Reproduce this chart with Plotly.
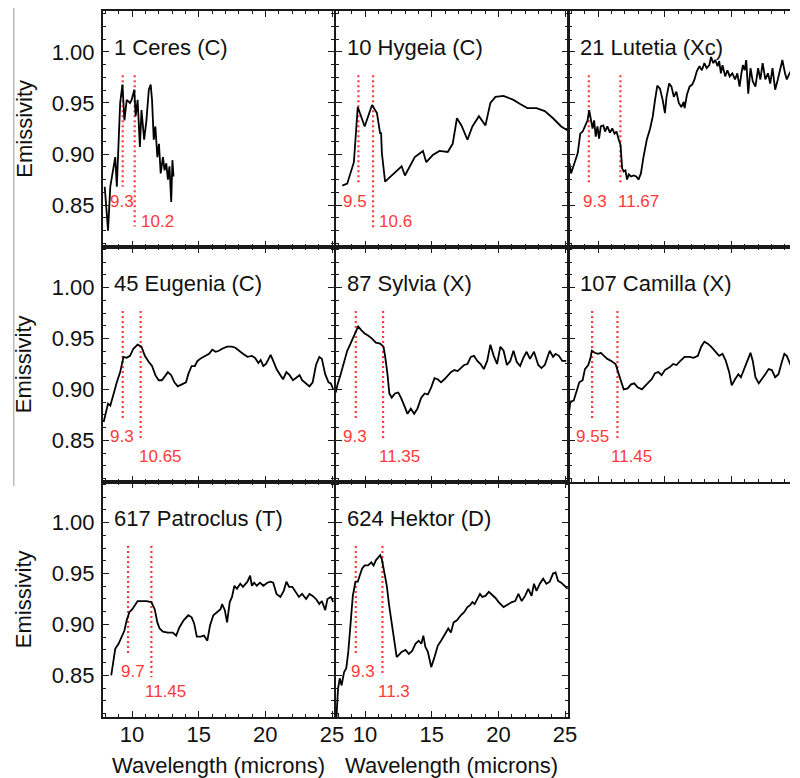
import plotly.graph_objects as go

# ---- emissivity spectra (wavelength in microns, emissivity) ----
ceres_wl = [7.95, 8.2, 8.37, 8.61, 8.74, 8.86, 8.99, 9.11, 9.28, 9.43, 9.6, 9.85, 9.97, 10.17,
            10.27, 10.42, 10.59, 10.71, 10.91, 11.08, 11.26, 11.4, 11.5, 11.63, 11.75, 11.9,
            12.02, 12.15, 12.32, 12.44, 12.57, 12.69, 12.81, 12.94, 13.03, 13.11]
ceres_em = [0.868, 0.825, 0.868, 0.888, 0.897, 0.868, 0.907, 0.950, 0.968, 0.933, 0.953, 0.950,
            0.953, 0.963, 0.937, 0.953, 0.907, 0.943, 0.914, 0.933, 0.963, 0.968, 0.953, 0.914,
            0.927, 0.897, 0.910, 0.881, 0.897, 0.884, 0.891, 0.875, 0.888, 0.853, 0.894, 0.878]

hygeia_wl = [8.29, 8.66, 9.16, 9.45, 9.97, 10.52, 10.89, 11.13, 11.2, 11.26, 11.5, 12.0, 12.74,
             12.99, 13.73, 14.34, 14.59, 15.08, 15.58, 16.2, 16.57, 16.89, 17.23, 17.68, 18.05,
             18.54, 19.03, 19.4, 19.78, 20.39, 21.13, 21.63, 22.17, 22.86, 23.48, 24.1, 24.71, 25.2]
hygeia_em = [0.869, 0.871, 0.892, 0.946, 0.927, 0.948, 0.940, 0.920, 0.921, 0.901, 0.873, 0.879,
             0.888, 0.879, 0.897, 0.903, 0.892, 0.899, 0.903, 0.902, 0.910, 0.935, 0.928, 0.914,
             0.927, 0.937, 0.928, 0.950, 0.956, 0.957, 0.953, 0.949, 0.945, 0.945, 0.942, 0.935,
             0.927, 0.923]

lutetia_wl = [7.85, 7.97, 8.22, 8.47, 8.66, 8.84, 9.01, 9.21, 9.33, 9.45, 9.58, 9.7, 9.82, 9.95,
              10.07, 10.2, 10.39, 10.52, 10.69, 10.89, 11.06, 11.23, 11.38, 11.55, 11.68, 11.8,
              11.92, 12.05, 12.17, 12.3, 12.47, 12.66, 12.86, 13.03, 13.21, 13.4, 13.65, 13.9,
              14.1, 14.27, 14.44, 14.64, 14.84, 15.01, 15.13, 15.33, 15.5, 15.68, 15.87, 16.05,
              16.24, 16.42, 16.49, 16.66, 16.86, 17.06, 17.23, 17.4, 17.6, 17.78, 17.97, 18.14,
              18.34, 18.47, 18.64, 18.79, 18.96, 19.08, 19.21, 19.33, 19.53, 19.7, 19.87, 20.07,
              20.27, 20.44, 20.61, 20.76, 20.86, 20.99, 21.11, 21.26, 21.43, 21.6, 21.8, 22.0,
              22.17, 22.34, 22.54, 22.74, 22.91, 23.08, 23.28, 23.48, 23.65, 23.82, 24.02, 24.15,
              24.32, 24.45]
lutetia_em = [0.891, 0.881, 0.891, 0.901, 0.920, 0.922, 0.927, 0.933, 0.943, 0.933, 0.925, 0.933,
              0.917, 0.927, 0.915, 0.927, 0.928, 0.922, 0.927, 0.921, 0.925, 0.920, 0.922, 0.914,
              0.909, 0.886, 0.883, 0.884, 0.875, 0.880, 0.878, 0.879, 0.878, 0.875, 0.881, 0.897,
              0.914, 0.925, 0.937, 0.953, 0.967, 0.964, 0.953, 0.940, 0.956, 0.969, 0.966, 0.956,
              0.961, 0.950, 0.946, 0.951, 0.945, 0.958, 0.966, 0.968, 0.973, 0.981, 0.986, 0.982,
              0.989, 0.984, 0.987, 0.995, 0.989, 0.992, 0.986, 0.991, 0.979, 0.987, 0.976, 0.982,
              0.976, 0.979, 0.973, 0.979, 0.966, 0.980, 0.987, 0.982, 0.992, 0.959, 0.984, 0.971,
              0.966, 0.984, 0.973, 0.989, 0.973, 0.979, 0.969, 0.984, 0.963, 0.973, 0.984, 0.992,
              0.979, 0.973, 0.978, 0.981]

eugenia_wl = [7.87, 8.05, 8.2, 8.37, 8.61, 8.86, 9.11, 9.36, 9.6, 9.85, 10.1, 10.42, 10.71, 10.96,
              11.26, 11.5, 11.75, 12.0, 12.24, 12.44, 12.69, 12.94, 13.18, 13.43, 13.73, 14.05,
              14.22, 14.47, 14.71, 14.91, 15.21, 15.53, 15.78, 16.02, 16.27, 16.52, 16.76, 17.13,
              17.5, 17.75, 18.0, 18.32, 18.66, 18.99, 19.23, 19.48, 19.65, 19.85, 20.05, 20.22,
              20.4, 20.59, 20.84, 21.13, 21.33, 21.58, 21.82, 22.07, 22.32, 22.57, 22.76, 23.01,
              23.31, 23.55, 23.8, 24.05, 24.24, 24.49, 24.74, 24.91, 25.1]
eugenia_em = [0.868, 0.879, 0.886, 0.884, 0.896, 0.907, 0.917, 0.932, 0.931, 0.933, 0.940, 0.944,
              0.942, 0.933, 0.927, 0.923, 0.914, 0.909, 0.909, 0.913, 0.917, 0.914, 0.907, 0.903,
              0.905, 0.907, 0.915, 0.923, 0.923, 0.928, 0.931, 0.933, 0.935, 0.939, 0.937, 0.938,
              0.940, 0.942, 0.942, 0.941, 0.938, 0.935, 0.932, 0.933, 0.931, 0.926, 0.929, 0.923,
              0.925, 0.930, 0.934, 0.928, 0.920, 0.914, 0.910, 0.917, 0.914, 0.909, 0.912, 0.914,
              0.909, 0.906, 0.903, 0.907, 0.924, 0.932, 0.930, 0.915, 0.907, 0.906, 0.900]

sylvia_wl = [7.8, 7.92, 8.17, 8.42, 8.66, 8.91, 9.16, 9.48, 9.73, 9.97, 10.22, 10.52, 10.81, 11.13,
             11.38, 11.5, 11.68, 11.82, 12.0, 12.24, 12.49, 12.69, 12.94, 13.18, 13.43, 13.68,
             13.92, 14.22, 14.47, 14.71, 14.96, 15.21, 15.45, 15.7, 15.95, 16.2, 16.44, 16.69,
             16.94, 17.18, 17.43, 17.68, 17.93, 18.17, 18.42, 18.66, 18.91, 19.16, 19.4, 19.65,
             19.9, 20.15, 20.39, 20.64, 20.89, 21.13, 21.38, 21.63, 21.87, 22.12, 22.37, 22.67,
             22.99, 23.23, 23.48, 23.85, 24.1, 24.29, 24.54, 24.79, 25.08]
sylvia_em = [0.897, 0.904, 0.915, 0.927, 0.938, 0.945, 0.953, 0.962, 0.958, 0.955, 0.953, 0.950,
             0.946, 0.945, 0.942, 0.933, 0.915, 0.896, 0.892, 0.896, 0.897, 0.892, 0.884, 0.876,
             0.881, 0.876, 0.881, 0.892, 0.896, 0.895, 0.902, 0.911, 0.910, 0.907, 0.910, 0.914,
             0.917, 0.919, 0.918, 0.921, 0.924, 0.925, 0.932, 0.933, 0.928, 0.925, 0.920, 0.928,
             0.944, 0.933, 0.925, 0.942, 0.938, 0.924, 0.928, 0.938, 0.927, 0.923, 0.931, 0.937,
             0.930, 0.937, 0.924, 0.921, 0.924, 0.938, 0.932, 0.935, 0.933, 0.928, 0.928]

camilla_wl = [7.8, 7.92, 8.17, 8.34, 8.59, 8.84, 9.01, 9.26, 9.41, 9.53, 9.75, 10.0, 10.2, 10.44,
              10.69, 10.99, 11.31, 11.5, 11.73, 11.92, 12.22, 12.47, 12.71, 12.96, 13.28, 13.53,
              13.78, 14.02, 14.27, 14.52, 14.76, 15.01, 15.38, 15.63, 15.87, 16.17, 16.49, 16.86,
              17.16, 17.48, 17.73, 17.97, 18.22, 18.47, 18.79, 19.08, 19.33, 19.58, 19.83, 20.02,
              20.27, 20.52, 20.71, 20.94, 21.18, 21.43, 21.6, 21.8, 22.05, 22.29, 22.54, 22.79,
              23.03, 23.28, 23.53, 23.78, 23.97, 24.15, 24.39, 24.5]
camilla_em = [0.876, 0.888, 0.889, 0.897, 0.907, 0.909, 0.920, 0.924, 0.930, 0.938, 0.936, 0.935,
              0.936, 0.933, 0.930, 0.928, 0.925, 0.917, 0.907, 0.900, 0.901, 0.905, 0.906, 0.902,
              0.900, 0.904, 0.907, 0.910, 0.916, 0.917, 0.914, 0.919, 0.922, 0.925, 0.924, 0.928,
              0.932, 0.932, 0.931, 0.933, 0.942, 0.947, 0.945, 0.942, 0.937, 0.933, 0.935, 0.928,
              0.917, 0.904, 0.910, 0.915, 0.912, 0.920, 0.928, 0.936, 0.928, 0.912, 0.906, 0.910,
              0.915, 0.920, 0.919, 0.912, 0.915, 0.927, 0.935, 0.933, 0.924, 0.922]

patroclus_wl = [8.44, 8.61, 8.74, 8.99, 9.23, 9.43, 9.6, 9.8, 10.02, 10.22, 10.42, 10.71, 11.08,
                11.45, 11.7, 11.9, 12.07, 12.32, 12.69, 13.06, 13.31, 13.55, 13.87, 14.22, 14.47,
                14.66, 14.86, 15.16, 15.4, 15.65, 15.85, 16.1, 16.39, 16.64, 16.76, 16.96, 17.13,
                17.33, 17.5, 17.68, 17.87, 18.12, 18.32, 18.49, 18.66, 18.86, 18.99, 19.16, 19.36,
                19.6, 19.85, 20.15, 20.39, 20.59, 20.84, 21.13, 21.38, 21.58, 21.78, 22.02, 22.27,
                22.52, 22.76, 23.06, 23.31, 23.55, 23.8, 24.05, 24.24, 24.49, 24.66, 24.91, 25.1]
patroclus_em = [0.850, 0.863, 0.876, 0.881, 0.889, 0.894, 0.904, 0.912, 0.915, 0.919, 0.923, 0.923,
                0.923, 0.922, 0.915, 0.902, 0.896, 0.893, 0.892, 0.892, 0.889, 0.897, 0.904, 0.909,
                0.907, 0.901, 0.888, 0.888, 0.889, 0.884, 0.899, 0.909, 0.912, 0.915, 0.920, 0.914,
                0.902, 0.922, 0.927, 0.938, 0.935, 0.940, 0.937, 0.940, 0.942, 0.948, 0.938, 0.941,
                0.938, 0.941, 0.938, 0.941, 0.942, 0.941, 0.930, 0.927, 0.933, 0.942, 0.937, 0.937,
                0.932, 0.927, 0.930, 0.925, 0.930, 0.928, 0.925, 0.920, 0.923, 0.914, 0.925, 0.927,
                0.922]

hektor_wl = [7.85, 7.97, 8.1, 8.24, 8.42, 8.59, 8.74, 8.91, 9.08, 9.28, 9.45, 9.6, 9.78, 9.97,
             10.22, 10.47, 10.64, 10.81, 11.01, 11.13, 11.26, 11.45, 11.63, 11.8, 12.0, 12.2, 12.37,
             12.54, 12.74, 13.03, 13.28, 13.53, 13.78, 14.02, 14.22, 14.37, 14.52, 14.71, 14.96,
             15.21, 15.45, 15.7, 15.95, 16.24, 16.44, 16.64, 16.89, 17.18, 17.43, 17.68, 17.88,
             18.05, 18.22, 18.42, 18.62, 18.79, 19.03, 19.28, 19.53, 19.78, 20.02, 20.39, 20.77,
             21.01, 21.26, 21.5, 21.75, 22.0, 22.24, 22.49, 22.67, 22.86, 23.11, 23.36, 23.6,
             23.85, 24.1, 24.29, 24.47, 24.71, 24.96, 25.2]
hektor_em = [0.808, 0.837, 0.847, 0.840, 0.853, 0.857, 0.873, 0.906, 0.928, 0.942, 0.942, 0.948,
             0.955, 0.958, 0.958, 0.961, 0.958, 0.963, 0.966, 0.968, 0.964, 0.951, 0.938, 0.919,
             0.902, 0.886, 0.868, 0.870, 0.873, 0.875, 0.871, 0.874, 0.881, 0.884, 0.881, 0.889,
             0.878, 0.873, 0.858, 0.868, 0.879, 0.884, 0.889, 0.896, 0.892, 0.902, 0.904, 0.909,
             0.912, 0.917, 0.919, 0.922, 0.920, 0.925, 0.930, 0.927, 0.928, 0.932, 0.929, 0.926,
             0.922, 0.917, 0.920, 0.922, 0.923, 0.930, 0.923, 0.928, 0.935, 0.928, 0.940, 0.933,
             0.940, 0.945, 0.940, 0.942, 0.950, 0.951, 0.943, 0.941, 0.938, 0.935]

names = ["1 Ceres (C)", "10 Hygeia (C)", "21 Lutetia (Xc)",
         "45 Eugenia (C)", "87 Sylvia (X)", "107 Camilla (X)",
         "617 Patroclus (T)", "624 Hektor (D)"]
wavelengths = [ceres_wl, hygeia_wl, lutetia_wl, eugenia_wl, sylvia_wl, camilla_wl,
               patroclus_wl, hektor_wl]
emissivities = [ceres_em, hygeia_em, lutetia_em, eugenia_em, sylvia_em, camilla_em,
                patroclus_em, hektor_em]
# band positions marked in each panel (microns)
band_centers = [[9.3, 10.2], [9.5, 10.6], [9.3, 11.67], [9.3, 10.65],
                [9.3, 11.35], [9.55, 11.45], [9.7, 11.45], [9.3, 11.3]]

y_ticks = [0.85, 0.90, 0.95, 1.00]
x_ticks = [10, 15, 20, 25]

# ---- layout geometry ----
W, H = 800, 778
FONT = "Liberation Sans, Arial, Helvetica, sans-serif"
RED = "#ff3a3a"
INK = "#111111"
col_px = [(104, 338), (340, 575), (576, 800)]
row_px = [(11, 247), (247, 482), (482, 717)]
PX_PER_MICRON = 13.5
X0 = 7.8
Y_RANGE = [0.809, 1.040]

# dotted-marker extents: (bottom of first, bottom of second) and label placement
line_bottoms = [(0.868, 0.829), (0.872, 0.828), (0.870, 0.870), (0.870, 0.850),
                (0.870, 0.850), (0.870, 0.850), (0.870, 0.848), (0.870, 0.850)]
label2_low = [True, True, False, True, True, True, True, True]
label1_shift = [-1, -3, 6, -1, -1, 0, 5, 7]
label2_shift = [4, 4, -4, -4, -6, -8, -8, -6]

fig = go.Figure()
annotations = []

for i in range(8):
    r, c = divmod(i, 3)
    k = "" if i == 0 else str(i + 1)
    xa, ya = "x" + k, "y" + k
    cx0, cx1 = col_px[c]
    ry0, ry1 = row_px[r]
    x_range = [X0, X0 + (cx1 - cx0) / PX_PER_MICRON]

    common = dict(showline=True, linecolor="#1a1a1a", linewidth=1.6,
                  ticks="inside", tickcolor="#1a1a1a", tickwidth=1.2, ticklen=6,
                  showgrid=False, zeroline=False,
                  tickfont=dict(family=FONT, size=22, color=INK))
    fig.layout["xaxis" + k] = dict(
        common, domain=[cx0 / W, cx1 / W], anchor=ya, range=x_range,
        tickvals=x_ticks, mirror="ticks",
        minor=dict(ticks="inside", dtick=1, tick0=0, ticklen=3, tickwidth=1, tickcolor="#1a1a1a"),
        showticklabels=(r == 2), ticklabelstandoff=-3)
    fig.layout["yaxis" + k] = dict(
        common, domain=[1 - ry1 / H, 1 - ry0 / H], anchor=xa, range=Y_RANGE,
        tickvals=y_ticks, tickformat=".2f",
        mirror=("ticks" if c < 2 else False),
        minor=dict(ticks="inside", dtick=0.0125, tick0=0, ticklen=3, tickwidth=1, tickcolor="#1a1a1a"),
        showticklabels=(c == 0), ticklabelstandoff=2)

    # band markers
    b1, b2 = band_centers[i]
    lb1, lb2 = line_bottoms[i]
    for b, lb in ((b1, lb1), (b2, lb2)):
        fig.add_trace(go.Scatter(x=[b, b], y=[0.977, lb], mode="lines",
                                 line=dict(color=RED, width=2.2, dash="2px,3px"),
                                 xaxis=xa, yaxis=ya, showlegend=False, hoverinfo="skip"))
    # spectrum
    fig.add_trace(go.Scatter(x=wavelengths[i], y=emissivities[i], mode="lines",
                             line=dict(color="black", width=1.8),
                             xaxis=xa, yaxis=ya, showlegend=False))

    annotations.append(dict(x=b1, y=0.854, xref=xa, yref=ya, text=str(b1), showarrow=False,
                            xanchor="center", yanchor="middle", xshift=label1_shift[i],
                            font=dict(family=FONT, size=17, color=RED)))
    annotations.append(dict(x=b2, y=(0.834 if label2_low[i] else 0.854), xref=xa, yref=ya,
                            text=str(b2), showarrow=False, xanchor="left", yanchor="middle",
                            xshift=label2_shift[i], font=dict(family=FONT, size=17, color=RED)))
    # panel name
    annotations.append(dict(x=0, y=1, xref=xa + " domain", yref=ya + " domain",
                            text=names[i], showarrow=False, xanchor="left", yanchor="top",
                            xshift=9, yshift=-22, font=dict(family=FONT, size=22, color=INK)))

# axis titles
for ry0, ry1 in row_px:
    annotations.append(dict(x=24 / W, y=1 - (ry0 + ry1) / 2 / H, xref="paper", yref="paper",
                            text="Emissivity", textangle=-90, showarrow=False,
                            xanchor="center", yanchor="middle",
                            font=dict(family=FONT, size=22, color=INK)))
for cx0, cx1 in col_px[:2]:
    annotations.append(dict(x=(cx0 + cx1) / 2 / W, y=1 - 765 / H, xref="paper", yref="paper",
                            text="Wavelength (microns)", showarrow=False,
                            xanchor="center", yanchor="middle",
                            font=dict(family=FONT, size=22, color=INK)))

fig.update_layout(
    width=W, height=H, margin=dict(l=0, r=0, t=0, b=0),
    paper_bgcolor="white", plot_bgcolor="white",
    annotations=annotations,
    shapes=[dict(type="line", xref="paper", yref="paper", x0=14 / W, x1=14 / W,
                 y0=1 - 486 / H, y1=1 - 8 / H, line=dict(color="#9a9a9a", width=1))],
)

fig.write_html("out.html")
